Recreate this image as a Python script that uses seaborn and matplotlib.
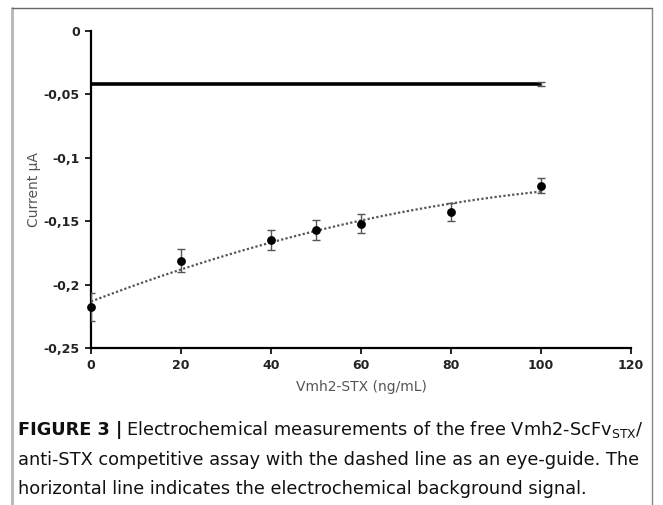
import numpy as np
import pandas as pd
import matplotlib
matplotlib.use("Agg")
import matplotlib.pyplot as plt
from matplotlib.lines import Line2D
import seaborn as sns

# data
conc = [0, 20, 40, 50, 60, 80, 100]
current = [-0.218, -0.181, -0.165, -0.157, -0.152, -0.143, -0.122]
current_err = [0.011, 0.009, 0.008, 0.008, 0.0075, 0.007, 0.006]

background = -0.042
background_err = 0.0015
background_x = [0, 100]

x_ticks = [0, 20, 40, 60, 80, 100, 120]
y_ticks = [0, -0.05, -0.1, -0.15, -0.2, -0.25]
y_tick_labels = ["0", "-0,05", "-0,1", "-0,15", "-0,2", "-0,25"]

caption_bold = "FIGURE 3 |"
caption_lines = [
    r"Electrochemical measurements of the free Vmh2-ScFv$_\mathregular{STX}$/",
    "anti-STX competitive assay with the dashed line as an eye-guide. The",
    "horizontal line indicates the electrochemical background signal.",
]

sns.set_style("ticks")
plt.rcParams["font.family"] = ["DejaVu Sans"]

df = pd.DataFrame({"conc": conc, "current": current, "err": current_err})

W, H = 663, 505
fig = plt.figure(figsize=(W / 100, H / 100), dpi=100)
ax = fig.add_axes([91 / W, 1 - 348 / H, (631 - 91) / W, (348 - 31) / H])

# background signal
ax.plot(background_x, [background, background], color="black", lw=2.6, solid_capstyle="butt", zorder=2)
ax.errorbar([background_x[-1]], [background], yerr=[background_err], fmt="none",
            ecolor="#555555", elinewidth=1, capsize=3, capthick=1, zorder=3)

# eye-guide
sns.regplot(data=df, x="conc", y="current", order=2, ci=None, scatter=False, truncate=True,
            line_kws=dict(color="#555555", lw=1.6, ls=(0, (1, 1))), ax=ax)

ax.errorbar(df["conc"], df["current"], yerr=df["err"], fmt="none",
            ecolor="#555555", elinewidth=1, capsize=3, capthick=1, zorder=3)
sns.scatterplot(data=df, x="conc", y="current", color="black", s=40, edgecolor="black",
                linewidth=0, ax=ax, zorder=4, clip_on=False)

ax.set_xlim(0, 120)
ax.set_ylim(-0.25, 0)
ax.set_xticks(x_ticks)
ax.set_xticklabels([str(t) for t in x_ticks], fontweight="bold", fontsize=9, color="#222222")
ax.set_yticks(y_ticks)
ax.set_yticklabels(y_tick_labels, fontweight="bold", fontsize=9, color="#222222")
ax.tick_params(direction="out", length=4, width=1.2, color="black", pad=4)
for s in ["top", "right"]:
    ax.spines[s].set_visible(False)
for s in ["left", "bottom"]:
    ax.spines[s].set_linewidth(1.6)
    ax.spines[s].set_color("black")

ax.set_xlabel("Vmh2-STX (ng/mL)", fontsize=10, color="#555555", labelpad=6)
ax.set_ylabel("Current µA", fontsize=10, color="#555555", labelpad=2)

# frame around figure
fig.add_artist(Line2D([12 / W, 12 / W], [0, 1 - 8 / H], color="#bbbbbb", lw=2.2))
fig.add_artist(Line2D([652 / W, 652 / W], [0, 1 - 8 / H], color="#888888", lw=1))
fig.add_artist(Line2D([12 / W, 652 / W], [1 - 8 / H, 1 - 8 / H], color="#666666", lw=1))

# caption, font size fitted so the second line ends near the right frame
cap_left, cap_right = 18, 638
fig.canvas.draw()
r = fig.canvas.get_renderer()
probe = fig.text(0, 0, caption_lines[1], fontsize=10)
w10 = probe.get_window_extent(renderer=r).width
probe.remove()
fs = 10 * (cap_right - cap_left) / w10

line_y = [430, 460, 489]
t1 = fig.text(cap_left / W, 1 - line_y[0] / H, caption_bold, fontsize=fs, fontweight="bold",
              va="center", color="#111111")
bb = t1.get_window_extent(renderer=r)
fig.text((bb.x1 + 4) / W, 1 - line_y[0] / H, caption_lines[0], fontsize=fs, va="center", color="#111111")
for txt, yy in zip(caption_lines[1:], line_y[1:]):
    fig.text(cap_left / W, 1 - yy / H, txt, fontsize=fs, va="center", color="#111111")

fig.savefig("out.png", dpi=100)
